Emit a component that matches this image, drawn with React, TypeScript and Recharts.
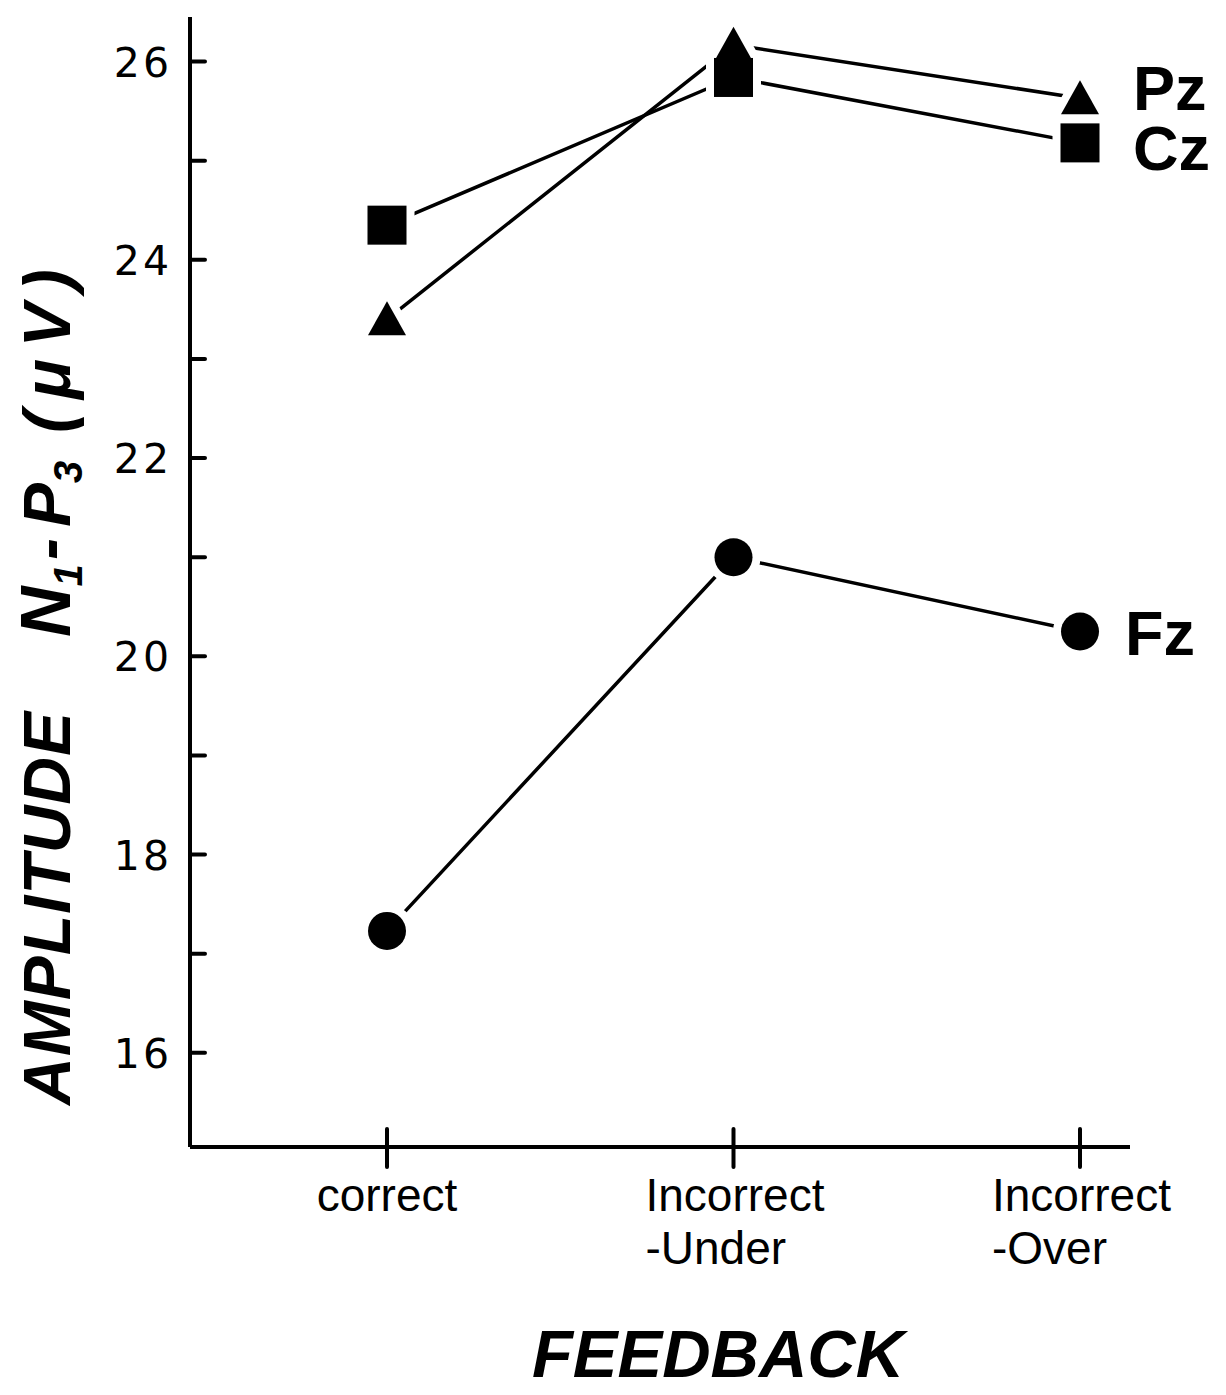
import { LineChart, Line, XAxis, YAxis } from "recharts";

// N1-P3 amplitude (µV) by feedback condition, one list per electrode
const feedback = ["correct", "Incorrect\n-Under", "Incorrect\n-Over"];
const pz = [23.4, 26.17, 25.63];
const cz = [24.35, 25.84, 25.18];
const fz = [17.23, 21.0, 20.25];

const yTicks = [16, 17, 18, 19, 20, 21, 22, 23, 24, 25, 26];
const yTickLabels = [16, 18, 20, 22, 24, 26];

const data = feedback.map((f, i) => ({ feedback: f, pz: pz[i], cz: cz[i], fz: fz[i] }));

type Shape = "triangle" | "square" | "circle";

const series: { key: "pz" | "cz" | "fz"; name: string; shape: Shape; dx: number; dy: number }[] = [
  { key: "fz", name: "Fz", shape: "circle", dx: 45, dy: 23 },
  { key: "cz", name: "Cz", shape: "square", dx: 53, dy: 27 },
  { key: "pz", name: "Pz", shape: "triangle", dx: 53, dy: 12 },
];

function marker(shape: Shape, cx: number, cy: number, halo: boolean, key: number) {
  const fill = halo ? "#fff" : "#000";
  const stroke = halo ? "#fff" : "none";
  const sw = halo ? 16 : 0;
  if (shape === "circle") {
    return <circle key={key} cx={cx} cy={cy} r={19} fill={fill} stroke={stroke} strokeWidth={sw} />;
  }
  if (shape === "square") {
    return (
      <rect key={key} x={cx - 19.5} y={cy - 19.5} width={39} height={39} fill={fill} stroke={stroke} strokeWidth={sw} strokeLinejoin="round" />
    );
  }
  return (
    <path
      key={key}
      d={`M${cx},${cy - 18} L${cx + 19},${cy + 16} L${cx - 19},${cy + 16} Z`}
      fill={fill}
      stroke={stroke}
      strokeWidth={sw}
      strokeLinejoin="round"
    />
  );
}

function YTick({ x, y, payload }: any) {
  const v = payload.value;
  return (
    <g>
      <line x1={x} x2={x + 15} y1={y} y2={y} stroke="#000" strokeWidth={4} strokeLinecap="round" />
      {yTickLabels.includes(v) && (
        <text x={x - 18} y={y + 15} textAnchor="end" fontSize={41} fontFamily="DejaVu Sans" letterSpacing={3} fill="#000">
          {v}
        </text>
      )}
    </g>
  );
}

function XTick({ x, y, payload }: any) {
  const lines = String(payload.value).split("\n");
  const multi = lines.length > 1;
  return (
    <g>
      <line x1={x} x2={x} y1={y - 18} y2={y + 20} stroke="#000" strokeWidth={4} strokeLinecap="round" />
      <text fontSize={46} fontFamily="Liberation Sans" textAnchor={multi ? "start" : "middle"} fill="#000">
        {lines.map((l, i) => (
          <tspan key={i} x={multi ? x - 88 : x} y={y + 64 + i * 53}>
            {l}
          </tspan>
        ))}
      </text>
    </g>
  );
}

function YTitle() {
  return (
    <text
      transform="translate(70,1105) rotate(-90)"
      fontFamily="Liberation Sans"
      fontStyle="italic"
      fontWeight="bold"
      fontSize={66}
      fill="#000"
    >
      <tspan x={0} y={0} letterSpacing={1}>AMPLITUDE</tspan>
      <tspan x={468} fontSize={70}>N</tspan>
      <tspan fontSize={40} dy={12}>1</tspan>
      <tspan x={545} dy={-12}>-</tspan>
      <tspan x={578}>P</tspan>
      <tspan fontSize={40} dy={12}>3</tspan>
      <tspan x={672} dy={-12} letterSpacing={12}>(μV)</tspan>
    </text>
  );
}

function XTitle() {
  return (
    <text x={718} y={1377} textAnchor="middle" fontFamily="Liberation Sans" fontStyle="italic" fontWeight="bold" fontSize={67} fill="#000">
      FEEDBACK
    </text>
  );
}

export default function App() {
  return (
    <div style={{ width: 1226, height: 1395, background: "#fff" }}>
      <style>{`body{margin:0;background:#fff}`}</style>
      <LineChart width={1226} height={1395} data={data} margin={{ top: 17, right: 96, bottom: 148, left: 0 }}>
        <XAxis
          dataKey="feedback"
          type="category"
          padding={{ left: 197, right: 50 }}
          axisLine={{ stroke: "#000", strokeWidth: 4 }}
          tickLine={false}
          tickSize={0}
          tickMargin={0}
          height={100}
          tick={<XTick />}
          interval={0}
          label={<XTitle />}
        />
        <YAxis
          type="number"
          domain={[15.05, 26.45]}
          ticks={yTicks}
          allowDataOverflow
          width={190}
          axisLine={{ stroke: "#000", strokeWidth: 4 }}
          tickLine={false}
          tickSize={0}
          tickMargin={0}
          tick={<YTick />}
          interval={0}
          label={<YTitle />}
        />
        {series.map((s) => (
          <Line
            key={`line-${s.key}`}
            dataKey={s.key}
            type="linear"
            stroke="#000"
            strokeWidth={3.5}
            dot={false}
            activeDot={false}
            isAnimationActive={false}
          />
        ))}
        {series.map((s) => (
          <Line
            key={`halo-${s.key}`}
            dataKey={s.key}
            type="linear"
            stroke="none"
            dot={(p: any) => marker(s.shape, p.cx, p.cy, true, p.index)}
            activeDot={false}
            isAnimationActive={false}
          />
        ))}
        {series.map((s) => (
          <Line
            key={`mark-${s.key}`}
            dataKey={s.key}
            type="linear"
            stroke="none"
            dot={(p: any) => marker(s.shape, p.cx, p.cy, false, p.index)}
            activeDot={false}
            isAnimationActive={false}
            label={(p: any) =>
              p.index === feedback.length - 1 ? (
                <text key={p.index} x={p.x + s.dx} y={p.y + s.dy} fontFamily="Liberation Sans" fontWeight="bold" fontSize={63} fill="#000">
                  {s.name}
                </text>
              ) : (
                <g key={p.index} />
              )
            }
          />
        ))}
      </LineChart>
    </div>
  );
}
